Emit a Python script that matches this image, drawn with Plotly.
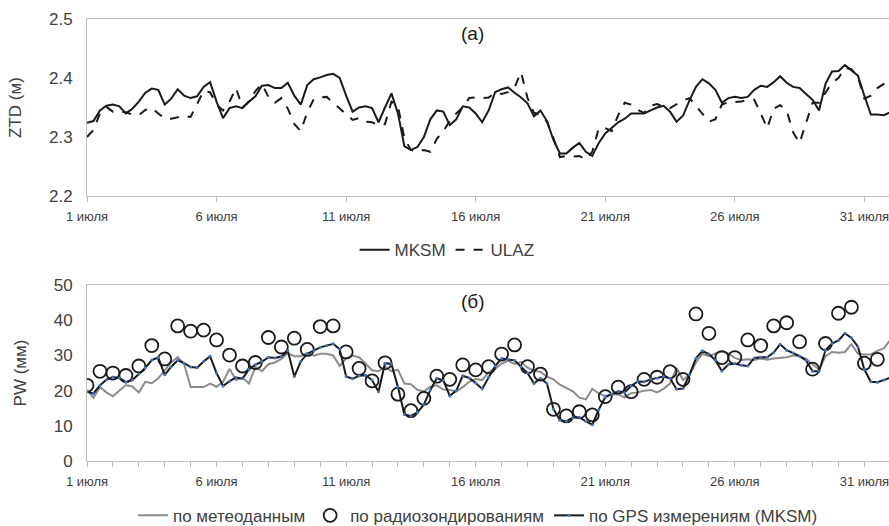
import plotly.graph_objects as go

# ---------------- data ----------------
# 6-hourly time grid, days since 1 July
step_days = 0.25
tick_days = [0, 5, 10, 15, 20, 25, 30]
tick_labels = ["1 июля", "6 июля", "11 июля", "16 июля", "21 июля", "26 июля", "31 июля"]

ztd_mksm = [2.324, 2.327, 2.345, 2.353, 2.355, 2.352, 2.340, 2.348, 2.360, 2.375,
            2.382, 2.380, 2.355, 2.365, 2.381, 2.370, 2.366, 2.369, 2.385, 2.393,
            2.360, 2.332, 2.349, 2.352, 2.349, 2.360, 2.369, 2.387, 2.388, 2.383,
            2.383, 2.392, 2.370, 2.355, 2.388, 2.398, 2.401, 2.405, 2.407, 2.400,
            2.370, 2.343, 2.350, 2.352, 2.349, 2.325, 2.350, 2.374, 2.340, 2.284,
            2.278, 2.283, 2.300, 2.330, 2.345, 2.343, 2.320, 2.330, 2.352, 2.350,
            2.340, 2.325, 2.345, 2.376, 2.381, 2.384, 2.375, 2.367, 2.357, 2.335,
            2.345, 2.327, 2.295, 2.272, 2.272, 2.282, 2.290, 2.275, 2.268, 2.290,
            2.306, 2.316, 2.325, 2.331, 2.340, 2.340, 2.340, 2.345, 2.350, 2.353,
            2.343, 2.326, 2.336, 2.362, 2.385, 2.398, 2.391, 2.380, 2.358, 2.366,
            2.368, 2.366, 2.368, 2.380, 2.387, 2.385, 2.393, 2.403, 2.392, 2.385,
            2.383, 2.373, 2.363, 2.345, 2.390, 2.411, 2.412, 2.422, 2.413, 2.404,
            2.370, 2.338, 2.338, 2.337, 2.342]

ztd_ulaz = [2.300, 2.312, 2.340, 2.351, 2.343, 2.342, 2.342, 2.338, 2.337, 2.346,
            2.349, 2.340, 2.331, 2.331, 2.334, 2.336, 2.334, 2.357, 2.378, 2.376,
            2.355, 2.345, 2.360, 2.383, 2.350, 2.360, 2.378, 2.390, 2.368, 2.358,
            2.366, 2.348, 2.322, 2.310, 2.342, 2.364, 2.367, 2.368, 2.358, 2.349,
            2.338, 2.329, 2.332, 2.326, 2.325, 2.320, 2.322, 2.360, 2.352, 2.298,
            2.278, 2.275, 2.278, 2.275, 2.297, 2.310, 2.327, 2.340, 2.350, 2.366,
            2.367, 2.366, 2.367, 2.375, 2.373, 2.376, 2.384, 2.410, 2.366, 2.341,
            2.338, 2.326, 2.298, 2.266, 2.268, 2.267, 2.268, 2.262, 2.275, 2.315,
            2.315, 2.310, 2.337, 2.358, 2.355, 2.346, 2.341, 2.353, 2.356, 2.351,
            2.349, 2.355, 2.362, 2.366, 2.352, 2.338, 2.326, 2.330, 2.355, 2.359,
            2.359, 2.360, 2.363, 2.363, 2.340, 2.315, 2.348, 2.354, 2.345, 2.308,
            2.290, 2.325, 2.358, 2.358, 2.375, 2.392, 2.400, 2.417, 2.415, 2.402,
            2.365, 2.370, 2.383, 2.390, 2.403]

pw_meteo = [20.2, 18.0, 21.0, 19.5, 18.4, 20.0, 21.6, 21.2, 19.5, 22.5,
            22.1, 23.5, 25.8, 28.0, 29.5, 27.5, 21.0, 21.0, 21.0, 22.0,
            21.1, 22.5, 26.2, 23.0, 23.7, 22.0, 26.7, 25.5, 27.5, 28.0,
            29.0, 30.6, 29.8, 29.8, 30.7, 29.9, 30.5, 30.5, 30.0, 27.0,
            29.2, 30.0, 29.5, 27.7, 25.8, 25.5, 26.8, 25.5, 25.9, 22.0,
            21.8, 20.2, 19.8, 21.1, 21.5, 20.3, 20.2, 19.8, 21.0, 22.5,
            23.3, 23.0, 25.2, 26.2, 27.7, 28.5, 27.6, 28.2, 26.5, 25.7,
            25.3, 24.0, 23.2, 21.7, 20.7, 19.8, 18.0, 17.5, 20.5, 19.2,
            18.4, 18.9, 19.0, 18.0, 19.3, 19.5, 20.0, 20.2, 19.5, 20.5,
            22.0, 26.5, 23.0, 24.5, 28.0, 30.5, 29.8, 30.6, 31.1, 30.6,
            29.3, 28.7, 28.9, 28.7, 29.1, 28.8, 29.1, 29.2, 29.5, 30.0,
            29.8, 29.0, 27.5, 26.0, 29.8, 31.0, 30.8, 31.0, 33.2, 30.5,
            30.3, 30.3, 31.3, 32.0, 34.4]

pw_gps = [19.7, 19.2, 21.5, 23.1, 23.9, 23.6, 22.4, 23.0, 24.7, 26.5,
          28.7, 29.4, 24.5, 26.8, 28.6, 27.8, 26.7, 26.5, 28.3, 29.8,
          25.0, 21.3, 22.7, 23.7, 23.4, 26.0, 27.4, 28.2, 29.5, 29.3,
          29.7, 31.3, 24.0, 28.3, 30.5, 31.4, 32.3, 32.8, 33.3, 31.8,
          24.0, 23.4, 24.2, 24.4, 23.0, 19.7, 27.8, 27.6, 21.0, 13.2,
          12.8, 13.8, 16.0, 20.2, 23.5, 22.9, 18.5, 20.0, 24.2, 23.6,
          22.2, 20.5, 23.8, 27.0, 29.1, 28.9, 28.6, 26.8, 25.0, 22.0,
          23.5, 22.0, 14.8, 11.6, 11.3, 12.3, 12.4, 11.3, 10.3, 14.6,
          18.2, 19.0, 19.8, 19.5, 21.3, 22.6, 22.5, 23.2, 23.5, 24.0,
          23.5, 20.4, 20.6, 24.5, 29.2, 31.3, 30.4, 28.6, 25.6, 27.4,
          27.7, 27.2, 27.0, 29.3, 29.5, 29.5, 30.8, 33.2, 31.5, 30.7,
          29.8, 28.6, 25.5, 25.5, 31.5, 33.4, 34.3, 36.3, 35.0, 32.5,
          26.0, 22.5, 22.4, 23.0, 23.7]

# radiosondes, twice a day (00 and 12 UTC)
radio_step_days = 0.5
pw_radio = [21.5, 25.5, 25.0, 24.3, 27.0, 32.8, 29.0, 38.4, 36.9, 37.2,
            34.4, 30.1, 27.0, 28.0, 35.1, 32.4, 34.9, 31.7, 38.2, 38.4,
            31.0, 26.3, 22.8, 27.9, 19.0, 14.3, 17.8, 24.1, 23.2, 27.3,
            25.9, 26.8, 30.4, 33.0, 26.8, 24.7, 14.7, 12.8, 14.0, 13.1,
            18.3, 21.0, 19.7, 23.2, 23.8, 25.4, 23.2, 41.8, 36.3, 29.4,
            29.4, 34.4, 32.8, 38.4, 39.3, 33.9, 26.1, 33.4, 42.0, 43.7,
            27.8, 28.9]

t6 = [i * step_days for i in range(len(ztd_mksm))]
t12 = [i * radio_step_days for i in range(len(pw_radio))]

# ---------------- figure ----------------
FONT = "Liberation Sans, Arial, sans-serif"
TXT = "#404040"
AX = "#bfbfbf"

fig = go.Figure()

fig.add_trace(go.Scatter(x=t6, y=ztd_mksm, mode="lines", name="MKSM",
                         line=dict(color="#1a1a1a", width=2),
                         xaxis="x", yaxis="y", legend="legend"))
fig.add_trace(go.Scatter(x=t6, y=ztd_ulaz, mode="lines", name="ULAZ",
                         line=dict(color="#1a1a1a", width=2, dash="dash"),
                         xaxis="x", yaxis="y", legend="legend"))

fig.add_trace(go.Scatter(x=t6, y=pw_meteo, mode="lines", name="по метеоданным",
                         line=dict(color="#8c8c8c", width=2),
                         xaxis="x2", yaxis="y2", legend="legend2"))
fig.add_trace(go.Scatter(x=t12, y=pw_radio, mode="markers", name="по радиозондированиям",
                         marker=dict(symbol="circle-open", size=13, color="#1a1a1a",
                                     line=dict(width=1.8, color="#1a1a1a")),
                         xaxis="x2", yaxis="y2", legend="legend2"))
fig.add_trace(go.Scatter(x=t6, y=pw_gps, mode="lines+markers", name="по GPS измерениям (MKSM)",
                         line=dict(color="#1a1a1a", width=2),
                         marker=dict(size=3, color="#4472c4"),
                         xaxis="x2", yaxis="y2", legend="legend2"))

xcommon = dict(range=[0, 30.95], tickmode="array", tickvals=tick_days, ticktext=tick_labels,
               showline=True, linecolor=AX, linewidth=1, mirror=True,
               ticks="outside", ticklen=5, tickcolor=AX, showgrid=False, zeroline=False,
               automargin=False, ticklabeloverflow="allow",
               tickfont=dict(family=FONT, size=13, color=TXT), ticklabelstandoff=3)

fig.update_layout(
    width=889, height=526,
    margin=dict(l=87, r=0, t=19, b=65, autoexpand=False),
    paper_bgcolor="white", plot_bgcolor="white",
    font=dict(family=FONT, color=TXT),
    xaxis=dict(domain=[0, 1], anchor="y", **xcommon),
    xaxis2=dict(domain=[0, 1], anchor="y2",
                minor=dict(dtick=1, ticks="outside", ticklen=5, tickcolor=AX, showgrid=False),
                **xcommon),
    yaxis=dict(domain=[0.5995, 1], anchor="x", range=[2.2, 2.5], tickvals=[2.2, 2.3, 2.4, 2.5],
               tickformat=".1f", showline=True, linecolor=AX, linewidth=1, ticks="",
               showgrid=False, zeroline=False, ticklabelstandoff=10, automargin=False,
               tickfont=dict(family=FONT, size=17, color=TXT),
               title=dict(text="ZTD (м)", font=dict(family=FONT, size=17, color=TXT), standoff=22)),
    yaxis2=dict(domain=[0, 0.398], anchor="x2", range=[0, 50], tickvals=[0, 10, 20, 30, 40, 50],
                showline=True, linecolor=AX, linewidth=1, ticks="",
                showgrid=False, zeroline=False, ticklabelstandoff=10, automargin=False,
                tickfont=dict(family=FONT, size=17, color=TXT),
                title=dict(text="PW (мм)", font=dict(family=FONT, size=17, color=TXT), standoff=22)),
    legend=dict(orientation="h", x=0.449, xanchor="center", y=0.477, yanchor="middle",
                font=dict(family=FONT, size=17, color=TXT), itemwidth=30,
                bgcolor="rgba(0,0,0,0)"),
    legend2=dict(orientation="h", x=0.4875, xanchor="center", y=-0.124, yanchor="middle",
                 font=dict(family=FONT, size=17, color=TXT), itemwidth=30,
                 bgcolor="rgba(0,0,0,0)"),
    annotations=[
        dict(text="(a)", x=0.481, y=0.968, xref="paper", yref="paper", showarrow=False,
             yanchor="middle", font=dict(family=FONT, size=19, color="#1a1a1a")),
        dict(text="(б)", x=0.481, y=0.36, xref="paper", yref="paper", showarrow=False,
             yanchor="middle", font=dict(family=FONT, size=19, color="#1a1a1a")),
    ],
)

fig.write_html("out.html", config={"displayModeBar": False},
               post_script="document.body.style.margin='0';")
